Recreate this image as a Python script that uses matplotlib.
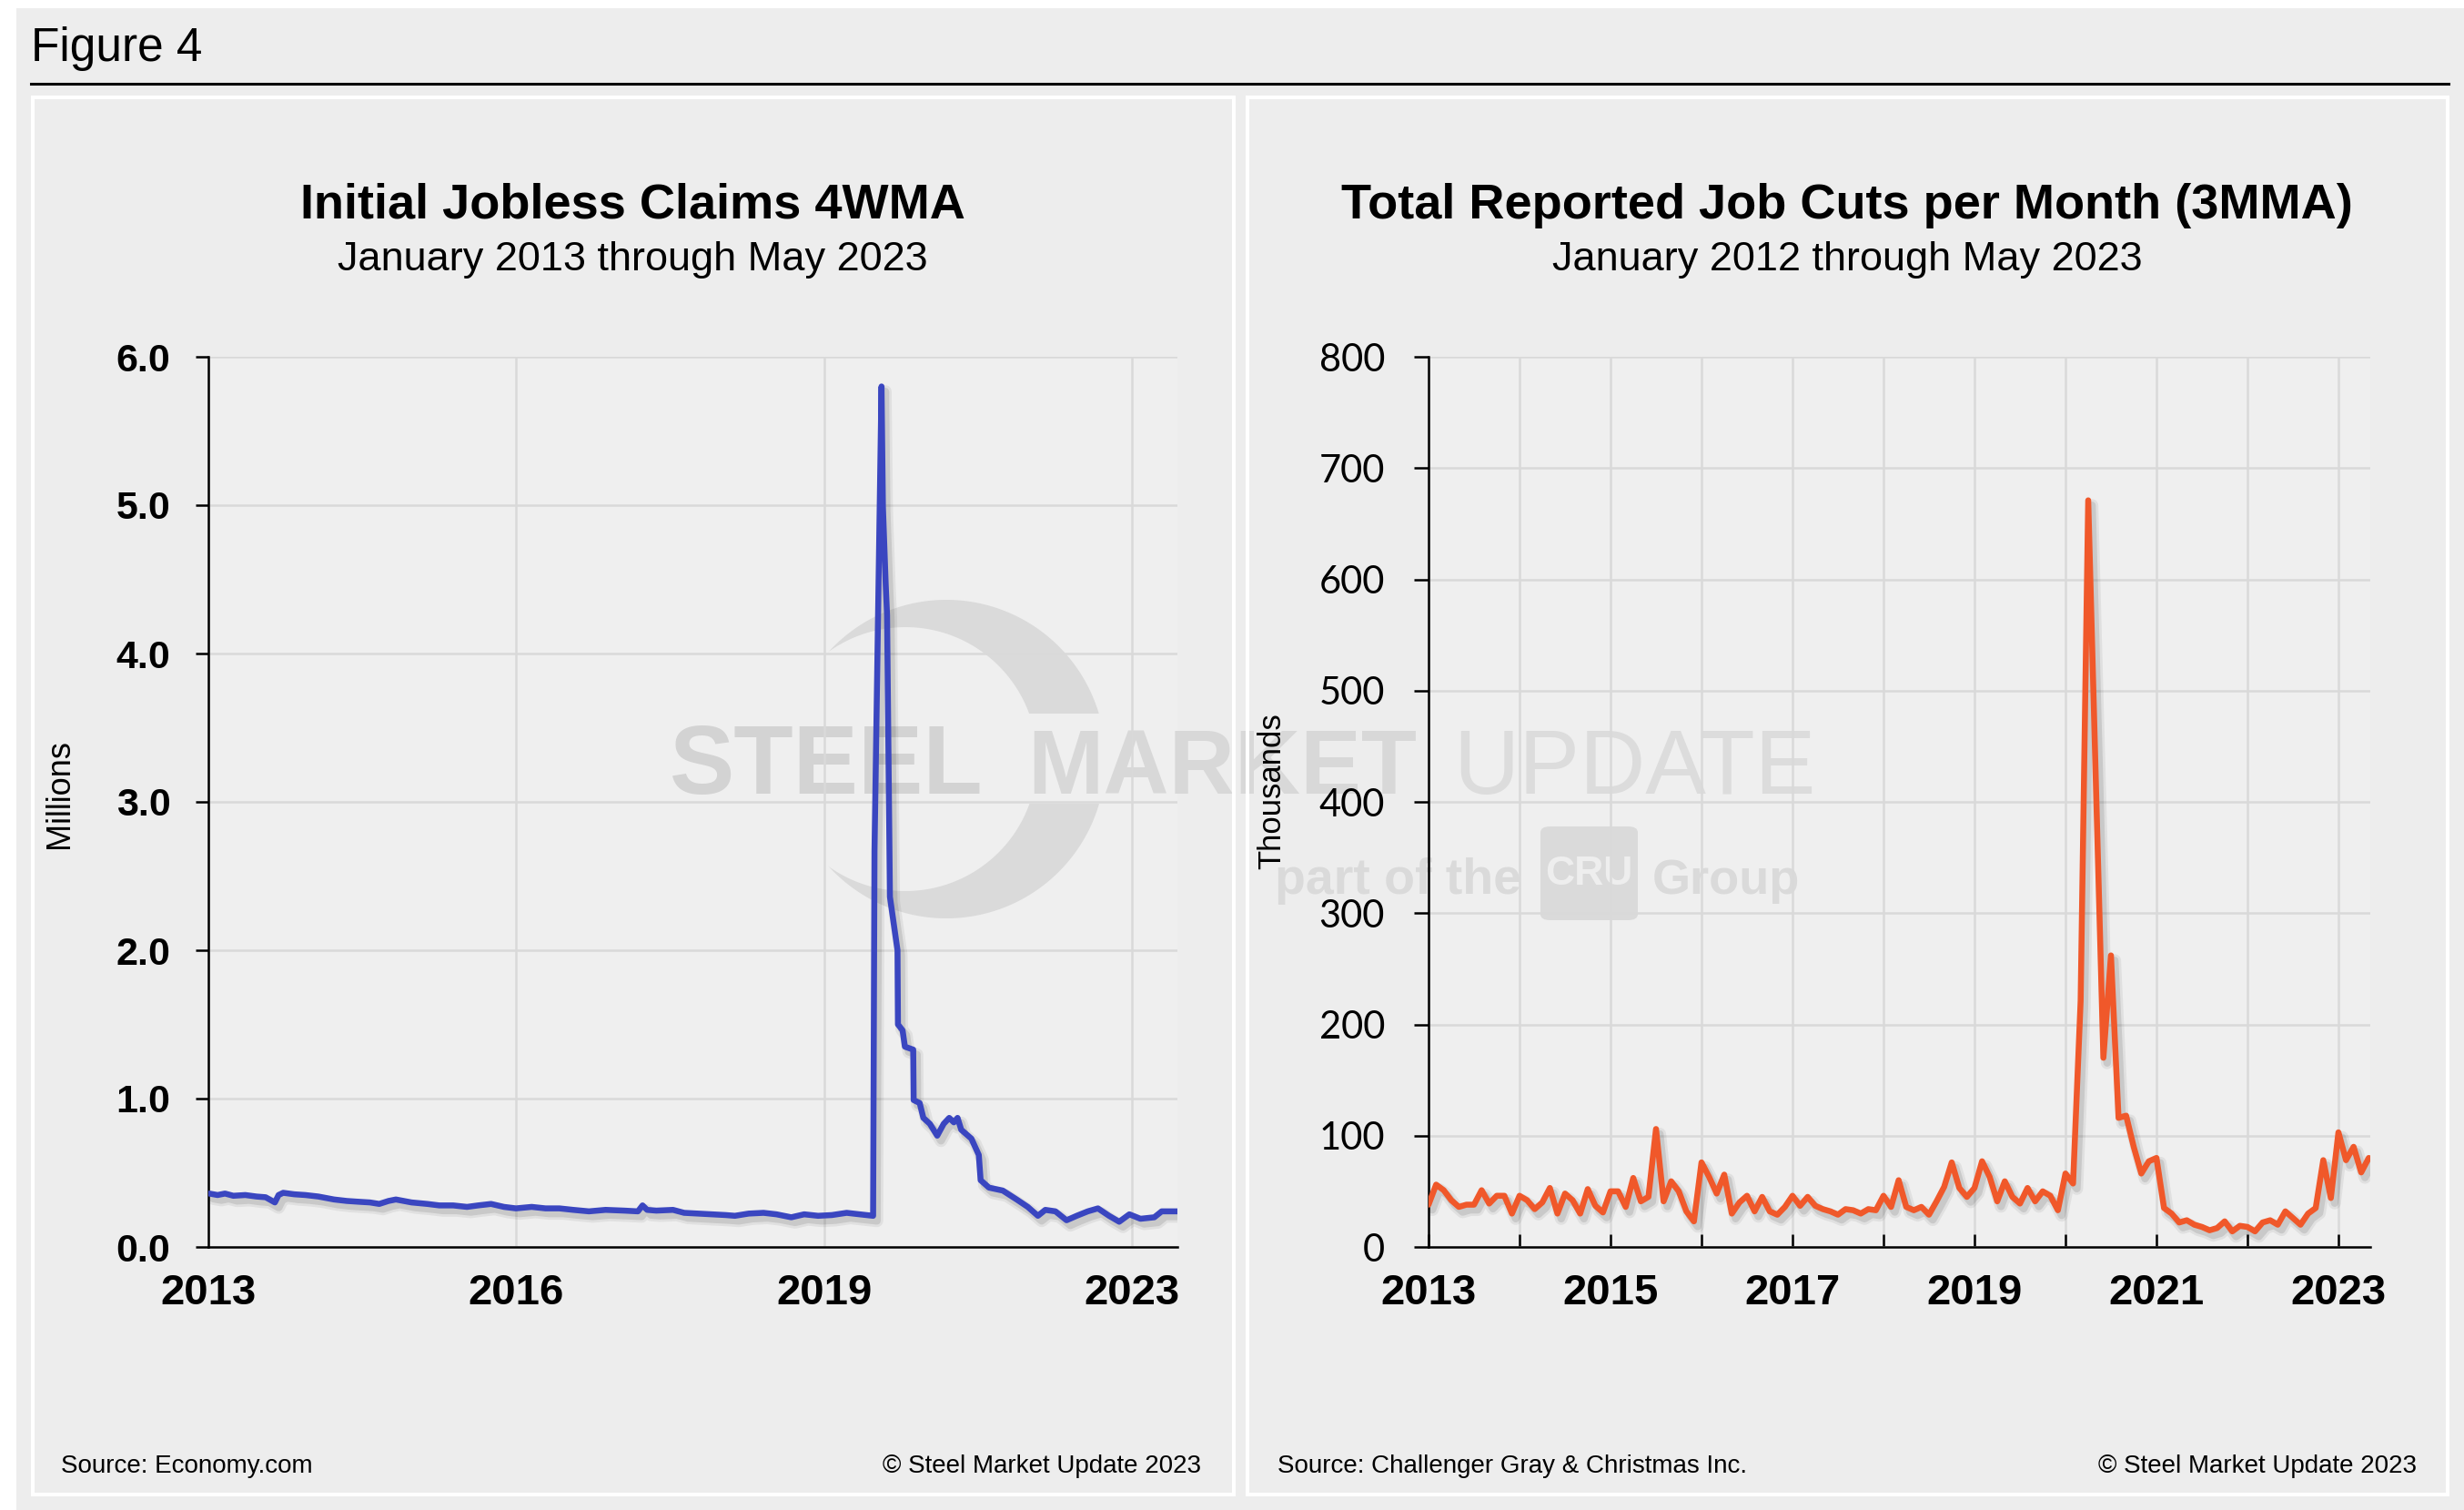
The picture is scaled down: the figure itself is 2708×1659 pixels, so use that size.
import matplotlib
matplotlib.use("Agg")
import matplotlib.pyplot as plt
import matplotlib.patheffects as pe
from matplotlib.patches import Rectangle, FancyBboxPatch, PathPatch
from matplotlib.path import Path
from matplotlib.ticker import FixedLocator, FixedFormatter
import numpy as np

# ---------------- data ----------------
# Initial jobless claims, 4-week moving average (millions); x in decimal years
claims_year = [
    2013.01, 2013.10, 2013.18, 2013.27, 2013.40, 2013.52, 2013.62, 2013.72, 2013.76,
    2013.81, 2013.93, 2014.05, 2014.19, 2014.36, 2014.50, 2014.62, 2014.75, 2014.85,
    2014.95, 2015.03, 2015.20, 2015.37, 2015.50, 2015.65, 2015.80, 2015.92,
    2016.06, 2016.20, 2016.33, 2016.50, 2016.65, 2016.80, 2016.95,
    2017.12, 2017.30, 2017.50, 2017.65, 2017.70, 2017.75, 2017.85,
    2018.03, 2018.15, 2018.30, 2018.45, 2018.60, 2018.70, 2018.85,
    2019.01, 2019.15, 2019.31, 2019.45, 2019.60, 2019.75, 2019.91,
    2020.05, 2020.196, 2020.211, 2020.287, 2020.302, 2020.332, 2020.347, 2020.378,
    2020.46, 2020.465, 2020.515, 2020.54, 2020.63, 2020.635, 2020.70, 2020.74,
    2020.81, 2020.89, 2020.96,
    2021.02, 2021.07, 2021.11, 2021.15, 2021.26, 2021.34, 2021.36, 2021.45,
    2021.60, 2021.75, 2021.87, 2021.98,
    2022.06, 2022.17, 2022.29, 2022.40, 2022.52, 2022.63, 2022.75, 2022.86, 2022.97,
    2023.09, 2023.24, 2023.32, 2023.49,
]
claims_mil = [
    0.36, 0.35, 0.36, 0.345, 0.35, 0.34, 0.335, 0.30, 0.35,
    0.365, 0.355, 0.35, 0.34, 0.32, 0.31, 0.305, 0.30, 0.29,
    0.31, 0.32, 0.30, 0.29, 0.28, 0.28, 0.27, 0.28,
    0.29, 0.27, 0.26, 0.27, 0.26, 0.26, 0.25,
    0.24, 0.25, 0.245, 0.24, 0.28, 0.25, 0.245,
    0.25, 0.23, 0.225, 0.22, 0.215, 0.21, 0.225,
    0.23, 0.22, 0.20, 0.22, 0.21, 0.215, 0.23,
    0.22, 0.21, 2.67, 5.80, 4.99, 4.47, 4.26, 2.36,
    2.00, 1.50, 1.46, 1.35, 1.33, 0.99, 0.97, 0.87,
    0.83, 0.75, 0.83,
    0.87, 0.84, 0.87, 0.79, 0.73, 0.62, 0.45, 0.40,
    0.38, 0.32, 0.27, 0.21,
    0.25, 0.24, 0.18, 0.21, 0.24, 0.26, 0.21, 0.17, 0.22,
    0.19, 0.20, 0.24, 0.24,
]
claims_tick_pos = [2013.0, 2016.333, 2019.667, 2023.0]
claims_tick_labels = ["2013", "2016", "2019", "2023"]
claims_yticks = [0, 1, 2, 3, 4, 5, 6]
claims_yticklabels = ["0.0", "1.0", "2.0", "3.0", "4.0", "5.0", "6.0"]

# Total reported job cuts per month, 3MMA (thousands), monthly from Jan 2013
cuts_2013 = [38, 56, 51, 42, 36, 38, 38, 51, 39, 46, 46, 30]
cuts_2014 = [46, 42, 34, 40, 53, 30, 48, 42, 30, 52, 37, 31]
cuts_2015 = [50, 50, 36, 62, 41, 45, 106, 41, 59, 50, 32, 23]
cuts_2016 = [76, 63, 48, 65, 30, 40, 46, 32, 45, 32, 29, 36]
cuts_2017 = [46, 37, 45, 37, 34, 32, 29, 34, 33, 30, 34, 33]
cuts_2018 = [46, 36, 60, 36, 33, 36, 29, 41, 54, 76, 53, 45]
cuts_2019 = [53, 77, 63, 41, 59, 45, 39, 53, 41, 50, 46, 33]
cuts_2020 = [66, 57, 221, 671, 420, 170, 262, 116, 118, 90, 66, 77]
cuts_2021 = [80, 35, 30, 22, 24, 20, 18, 15, 17, 23, 14, 19]
cuts_2022 = [18, 14, 22, 24, 20, 32, 26, 20, 30, 35, 78, 44]
cuts_2023 = [103, 78, 90, 67, 80]
cuts_start_year = 2013
cuts_tick_years = list(range(2013, 2024))
cuts_tick_labels = ["2013", "", "2015", "", "2017", "", "2019", "", "2021", "", "2023"]
cuts_yticks = [0, 100, 200, 300, 400, 500, 600, 700, 800]

cuts_k = (cuts_2013 + cuts_2014 + cuts_2015 + cuts_2016 + cuts_2017 + cuts_2018
          + cuts_2019 + cuts_2020 + cuts_2021 + cuts_2022 + cuts_2023)
cuts_x = [cuts_start_year + i / 12.0 for i in range(len(cuts_k))]

# ---------------- figure ----------------
W, H = 2708, 1659
DPI = 100
plt.rcParams["font.family"] = ["Liberation Sans", "DejaVu Sans"]
fig = plt.figure(figsize=(W / DPI, H / DPI), dpi=DPI, facecolor="white")

def fx(px):
    return px / W

def fy(py):
    return 1 - py / H

BG = "#ededed"
PLOT_BG = "#efefef"
GRID = "#d9d9d9"

# outer grey background
fig.patches.append(Rectangle((fx(18), 0), 1 - fx(18), fy(9), transform=fig.transFigure,
                             facecolor=BG, edgecolor="none", zorder=0))
# plot-area backgrounds
for (x0, x1) in [(229, 1294), (1570, 2605)]:
    fig.patches.append(Rectangle((fx(x0), fy(1370)), fx(x1) - fx(x0), fy(392) - fy(1370),
                                 transform=fig.transFigure, facecolor=PLOT_BG,
                                 edgecolor="none", zorder=0.2))
# panel borders
for (x0, x1) in [(35.5, 1355.5), (1370.5, 2689.5)]:
    fig.patches.append(Rectangle((fx(x0), fy(1641.5)), fx(x1) - fx(x0), fy(106.5) - fy(1641.5),
                                 transform=fig.transFigure, facecolor="none",
                                 edgecolor="white", linewidth=2.9, zorder=0.8))
# header rule
fig.add_artist(plt.Line2D([fx(34), fx(2691)], [fy(92), fy(92)], transform=fig.transFigure,
                          color="black", linewidth=2.2, zorder=1))
fig.text(fx(34), fy(67), "Figure 4", fontsize=37, ha="left", va="baseline", zorder=2)

# ---------------- watermark ----------------
def circ_pts(cx, cy, r, a0, a1, n=200):
    a = np.linspace(a0, a1, n)
    return np.column_stack([fx(cx + r * np.cos(a)), fy(cy + r * np.sin(a))])

# crescent: outer circle minus inner offset circle (image px coords, y down)
ocx, ocy, orad = 1040, 834, 175
icx, icy, irad = 995, 834, 145
hx = 910
hdy = np.sqrt(irad ** 2 - (hx - icx) ** 2)
ao = np.arctan2(hdy, hx - ocx)
ai = np.arctan2(hdy, hx - icx)
outer = circ_pts(ocx, ocy, orad, -ao, ao)
inner = circ_pts(icx, icy, irad, ai, -ai)
verts = np.vstack([outer, inner, outer[:1]])
cres_path = Path(verts)
for (ya, yb) in [(600, 784), (883, 1060)]:
    clip = Rectangle((fx(850), fy(yb)), fx(1300) - fx(850), fy(ya) - fy(yb),
                     transform=fig.transFigure, facecolor="none", edgecolor="none")
    fig.patches.append(clip)
    cp = PathPatch(cres_path, transform=fig.transFigure, facecolor="#dadada",
                   edgecolor="none", zorder=0.4)
    cp.set_clip_path(clip)
    fig.patches.append(cp)

fig.text(fx(736), fy(872), "STEEL", fontsize=77, fontweight="bold", color="#d3d3d3",
         ha="left", va="baseline", zorder=0.5)
fig.text(fx(1129), fy(872), "MARKET", fontsize=72, fontweight="bold", color="#d8d8d8",
         ha="left", va="baseline", zorder=0.5)
fig.text(fx(1597), fy(872), "UPDATE", fontsize=72, color="#dcdcdc",
         ha="left", va="baseline", zorder=0.5)
fig.text(fx(1401), fy(982), "part of the", fontsize=40, fontweight="bold", color="#dadada",
         ha="left", va="baseline", zorder=0.5)
fig.patches.append(FancyBboxPatch((fx(1693), fy(1011)), fx(1800) - fx(1693), fy(908) - fy(1011),
                                  boxstyle="round,pad=0,rounding_size=0.004",
                                  transform=fig.transFigure, facecolor="#dadada",
                                  edgecolor="none", zorder=0.5))
fig.text(fx(1746), fy(960), "CRU", fontsize=32, fontweight="bold", color="#eeeeee",
         ha="center", va="center", zorder=0.6)
fig.text(fx(1816), fy(982), "Group", fontsize=39, fontweight="bold", color="#dadada",
         ha="left", va="baseline", zorder=0.5)

# ---------------- axes ----------------
def make_axes(x0, x1):
    ax = fig.add_axes([fx(x0), fy(1370), fx(x1) - fx(x0), fy(392) - fy(1370)], zorder=1)
    ax.set_facecolor("none")
    for s in ["top", "right"]:
        ax.spines[s].set_visible(False)
    for s in ["left", "bottom"]:
        ax.spines[s].set_linewidth(1.8)
        ax.spines[s].set_color("black")
    ax.set_axisbelow(True)
    ax.grid(True, color=GRID, linewidth=1.8)
    return ax

shadow = [pe.SimpleLineShadow(offset=(3, -4), shadow_color="black", alpha=0.06, linewidth=10),
          pe.SimpleLineShadow(offset=(3, -4), shadow_color="black", alpha=0.10, linewidth=6),
          pe.Normal()]

# left chart
ax1 = make_axes(229, 1294)
ax1.plot(claims_year, claims_mil, color="#3a46c0", linewidth=4.7,
         solid_joinstyle="round", solid_capstyle="round", path_effects=shadow, zorder=3)
ax1.set_xlim(2013.0, 2023.49)
ax1.set_ylim(0, 6)
ax1.xaxis.set_major_locator(FixedLocator(claims_tick_pos))
ax1.xaxis.set_major_formatter(FixedFormatter(claims_tick_labels))
ax1.yaxis.set_major_locator(FixedLocator(claims_yticks))
ax1.yaxis.set_major_formatter(FixedFormatter(claims_yticklabels))
ax1.tick_params(axis="x", length=0, pad=21)
ax1.tick_params(axis="y", direction="out", length=10, width=1.8, pad=20)
for lab in ax1.get_xticklabels():
    lab.set_fontsize(34); lab.set_fontweight("bold")
for lab in ax1.get_yticklabels():
    lab.set_fontsize(31); lab.set_fontweight("bold")

# right chart
ax2 = make_axes(1570, 2605)
ax2.plot(cuts_x, cuts_k, color="#f0582a", linewidth=4.7,
         solid_joinstyle="round", solid_capstyle="round", path_effects=shadow, zorder=3)
ax2.set_xlim(2013.0, 2023.35)
ax2.set_ylim(0, 800)
ax2.xaxis.set_major_locator(FixedLocator(cuts_tick_years))
ax2.xaxis.set_major_formatter(FixedFormatter(cuts_tick_labels))
ax2.yaxis.set_major_locator(FixedLocator(cuts_yticks))
ax2.tick_params(axis="x", direction="in", length=10, width=1.8, pad=21)
ax2.tick_params(axis="y", direction="out", length=11.5, width=1.8, pad=23)
for lab in ax2.get_xticklabels():
    lab.set_fontsize(34); lab.set_fontweight("bold")
for lab in ax2.get_yticklabels():
    lab.set_fontsize(30); lab.set_fontfamily(["Lato", "DejaVu Sans"])

# axis labels
fig.text(fx(65), fy(872), "Millions", fontsize=26, rotation=90, ha="center", va="center", zorder=2)
fig.text(fx(1398), fy(869), "Thousands", fontsize=25, rotation=90, ha="center", va="center", zorder=2)

# titles
fig.text(fx(695.5), fy(240), "Initial Jobless Claims 4WMA", fontsize=39, fontweight="bold",
         ha="center", va="baseline", zorder=2)
fig.text(fx(695.5), fy(297), "January 2013 through May 2023", fontsize=32.5,
         ha="center", va="baseline", zorder=2)
fig.text(fx(2030), fy(240), "Total Reported Job Cuts per Month (3MMA)", fontsize=39,
         fontweight="bold", ha="center", va="baseline", zorder=2)
fig.text(fx(2030), fy(297), "January 2012 through May 2023", fontsize=32.5,
         ha="center", va="baseline", zorder=2)

# sources
fig.text(fx(67), fy(1618), "Source: Economy.com", fontsize=20, ha="left", va="baseline", zorder=2)
fig.text(fx(1320), fy(1618), "\u00a9 Steel Market Update 2023", fontsize=20, ha="right",
         va="baseline", zorder=2)
fig.text(fx(1404), fy(1618), "Source: Challenger Gray & Christmas Inc.", fontsize=20,
         ha="left", va="baseline", zorder=2)
fig.text(fx(2656), fy(1618), "\u00a9 Steel Market Update 2023", fontsize=20, ha="right",
         va="baseline", zorder=2)

fig.savefig("out.png", dpi=DPI, facecolor="white")
